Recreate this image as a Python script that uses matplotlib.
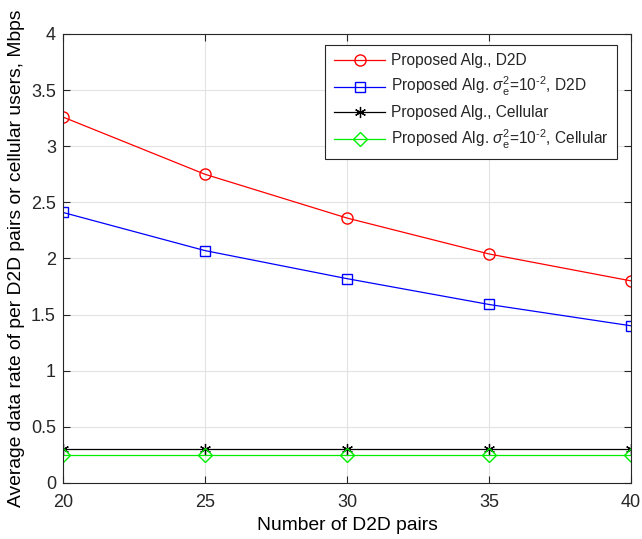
import matplotlib
matplotlib.use('Agg')
import matplotlib.pyplot as plt

plt.rcParams['font.family'] = ['Liberation Sans', 'DejaVu Sans']
plt.rcParams['mathtext.fontset'] = 'custom'
plt.rcParams['mathtext.rm'] = 'Liberation Sans'
plt.rcParams['mathtext.it'] = 'Liberation Sans:italic'
plt.rcParams['text.color'] = '#262626'

pairs = [20, 25, 30, 35, 40]
d2d = [3.26, 2.75, 2.36, 2.04, 1.80]
d2d_err = [2.41, 2.07, 1.82, 1.59, 1.40]
cell = [0.30, 0.30, 0.30, 0.30, 0.30]
cell_err = [0.25, 0.25, 0.25, 0.25, 0.25]

fig = plt.figure(figsize=(6.42, 5.39), dpi=100)
ax = fig.add_axes([0.098, 0.104, 0.885, 0.833])

ax.plot(pairs, d2d, color='red', marker='o', ms=8, mfc='none', lw=0.9,
        label='Proposed Alg., D2D')
ax.plot(pairs, d2d_err, color='blue', marker='s', ms=7, mfc='none', lw=0.9,
        label='Proposed Alg. $\\sigma_{\\rm e}^2$=10$^{\u2010 2}$, D2D')
ax.plot(pairs, cell, color='black', marker=(6, 2, 0), ms=8, mew=0.9, lw=0.9,
        label='Proposed Alg., Cellular')
ax.plot(pairs, cell_err, color='#00ee00', marker='D', ms=7, mfc='none', lw=0.9,
        label='Proposed Alg. $\\sigma_{\\rm e}^2$=10$^{\u2010 2}$, Cellular')

ax.set_xlim(20, 40)
ax.set_ylim(0, 4)
ax.set_xticks(pairs)
ax.set_yticks([0, 0.5, 1, 1.5, 2, 2.5, 3, 3.5, 4])
ax.set_yticklabels(['0', '0.5', '1', '1.5', '2', '2.5', '3', '3.5', '4'])
ax.grid(True, color='#e3e3e3', lw=0.8)
ax.set_axisbelow(True)
ax.tick_params(direction='in', top=True, right=True, labelsize=13, length=5,
               colors='#262626')
ax.tick_params(axis='x', pad=8)
ax.tick_params(axis='y', pad=5)
for s in ax.spines.values():
    s.set_color('#262626')
    s.set_linewidth(0.8)

ax.set_xlabel('Number of D2D pairs', fontsize=13.9, labelpad=4)
ax.set_ylabel('Average data rate of per D2D pairs or cellular users, Mbps',
              fontsize=13.9, labelpad=4)

leg = ax.legend(loc='upper right', prop={'size': 11.2}, fancybox=False,
                framealpha=1, edgecolor='#262626', handlelength=3.3,
                handletextpad=0.35, borderpad=0.55, labelspacing=0.45,
                borderaxespad=0, bbox_to_anchor=(0.975, 0.976))
leg.get_frame().set_linewidth(0.8)

fig.savefig('out.png', dpi=100)
